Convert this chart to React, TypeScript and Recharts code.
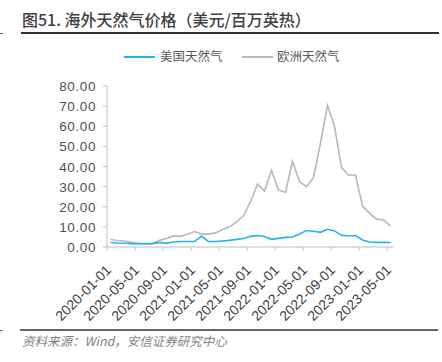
import React from "react";
import { LineChart, Line, XAxis, YAxis } from "recharts";

const months: string[] = [
  "2020-01","2020-02","2020-03","2020-04","2020-05","2020-06","2020-07","2020-08","2020-09","2020-10","2020-11","2020-12",
  "2021-01","2021-02","2021-03","2021-04","2021-05","2021-06","2021-07","2021-08","2021-09","2021-10","2021-11","2021-12",
  "2022-01","2022-02","2022-03","2022-04","2022-05","2022-06","2022-07","2022-08","2022-09","2022-10","2022-11","2022-12",
  "2023-01","2023-02","2023-03","2023-04","2023-05",
];

const usPrices: number[] = [
  2.2, 2.0, 1.9, 1.7, 1.6, 1.6, 1.7, 2.3, 1.8, 2.5, 2.7, 2.7,
  2.7, 5.4, 2.7, 2.7, 3.0, 3.3, 3.8, 4.2, 5.3, 5.7, 5.2, 3.8,
  4.3, 4.8, 5.0, 6.5, 8.2, 7.8, 7.3, 8.8, 8.0, 5.8, 5.5, 5.7,
  3.5, 2.5, 2.3, 2.3, 2.2,
];

const euPrices: number[] = [
  3.7, 3.2, 3.0, 2.3, 1.8, 1.7, 1.8, 3.3, 4.2, 5.5, 5.3, 6.3,
  7.7, 6.5, 6.4, 7.0, 8.7, 10.0, 12.5, 15.5, 22.5, 31.2, 27.8, 38.0,
  28.3, 27.2, 42.5, 32.5, 30.0, 34.5, 51.7, 70.3, 60.0, 39.5, 35.8, 35.8,
  20.3, 16.7, 13.8, 13.5, 10.3,
];

const tickLabels: string[] = [
  "2020-01-01","2020-05-01","2020-09-01","2021-01-01","2021-05-01","2021-09-01",
  "2022-01-01","2022-05-01","2022-09-01","2023-01-01","2023-05-01",
];

const yTicks: number[] = [0, 10, 20, 30, 40, 50, 60, 70, 80];

const usName = "美国天然气";
const euName = "欧洲天然气";

const data = months.map((m, i) => ({ idx: i, month: m, us: usPrices[i], eu: euPrices[i] }));
const xTicks = tickLabels.map((_, i) => i * 4 - 0.5);

const CJK = '"Noto Sans CJK SC", "Liberation Sans", Arial, sans-serif';
const LAT = '"Liberation Sans", Arial, sans-serif';

const XTick = (props: any) => {
  const { x, y, payload } = props;
  const i = Math.round((payload.value + 0.5) / 4);
  return (
    <g transform={`translate(${x + 5},${y + 18})`}>
      <text x={0} y={0} textAnchor="end" transform="rotate(-45)" fill="#404040" fontSize={14} fontFamily={LAT}>
        {tickLabels[i]}
      </text>
    </g>
  );
};

const YTick = (props: any) => {
  const { x, y, payload } = props;
  return (
    <text x={x - 5} y={y} dy={5} textAnchor="end" fill="#505050" fontSize={13.5} letterSpacing={0.6} fontFamily={LAT}>
      {Number(payload.value).toFixed(2)}
    </text>
  );
};

export default function App() {
  return (
    <div style={{ position: "fixed", left: 0, top: 0, width: 442, height: 362, background: "#fff", overflow: "hidden" }}>
      <div style={{ position: "absolute", left: 22, top: 9, fontFamily: CJK, fontSize: 16, color: "#404040", fontWeight: 500, whiteSpace: "nowrap", lineHeight: "21px" }}>
        图51. 海外天然气价格（美元/百万英热）
      </div>
      <div style={{ position: "absolute", left: 21, top: 32, width: 418, height: 2, background: "#333" }} />
      <div style={{ position: "absolute", left: 0, top: 33, width: 3, height: 1, background: "#666" }} />

      <div style={{ position: "absolute", left: 124, top: 56, width: 31, height: 2, background: "#1fb4ea" }} />
      <div style={{ position: "absolute", left: 160, top: 48, fontFamily: CJK, fontSize: 12.5, color: "#595959", lineHeight: "16px", whiteSpace: "nowrap" }}>{usName}</div>
      <div style={{ position: "absolute", left: 242, top: 56, width: 31, height: 2, background: "#bdb6b6" }} />
      <div style={{ position: "absolute", left: 277, top: 48, fontFamily: CJK, fontSize: 12.5, color: "#595959", lineHeight: "16px", whiteSpace: "nowrap" }}>{euName}</div>

      <div style={{ position: "absolute", left: 0, top: 0 }}>
        <LineChart width={442} height={362} data={data} margin={{ top: 86, right: 48, bottom: 45, left: 47 }}>
          <XAxis
            dataKey="idx"
            type="number"
            domain={[-0.5, 40.5]}
            ticks={xTicks}
            interval={0}
            tick={<XTick />}
            height={70}
            stroke="#bfbfbf"
            tickSize={4}
            axisLine={{ stroke: "#bfbfbf" }}
            tickLine={{ stroke: "#bfbfbf" }}
          />
          <YAxis
            type="number"
            domain={[0, 80]}
            ticks={yTicks}
            interval={0}
            width={60}
            tickSize={4}
            axisLine={{ stroke: "#bfbfbf" }}
            tickLine={{ stroke: "#bfbfbf" }}
            tick={<YTick />}
          />
          <Line dataKey="eu" stroke="#bdb6b6" strokeWidth={1.6} dot={false} isAnimationActive={false} />
          <Line dataKey="us" stroke="#1fb4ea" strokeWidth={1.6} dot={false} isAnimationActive={false} />
        </LineChart>
      </div>

      <div style={{ position: "absolute", left: 20, top: 329, width: 418, height: 2, background: "#666" }} />
      <div style={{ position: "absolute", left: 0, top: 330, width: 3, height: 1, background: "#666" }} />
      <div style={{ position: "absolute", left: 22, top: 332, fontFamily: CJK, fontSize: 12.5, fontStyle: "italic", color: "#7f7f7f", whiteSpace: "nowrap", lineHeight: "17px" }}>
        资料来源：Wind，安信证券研究中心
      </div>
    </div>
  );
}
